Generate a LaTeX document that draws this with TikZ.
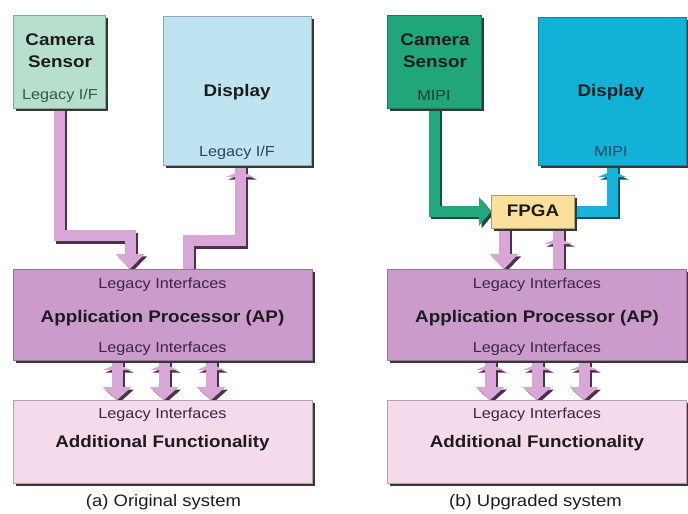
\documentclass[tikz,border=0pt]{standalone}
\usepackage{fontspec}
\setmainfont{Liberation Sans}[FakeStretch=1.12]
\usetikzlibrary{arrows.meta,shadows,backgrounds,decorations.markings}
\definecolor{camAc}{HTML}{B6DFCD}
\definecolor{dispAc}{HTML}{BEE3F1}
\definecolor{camBc}{HTML}{21A67B}
\definecolor{dispBc}{HTML}{12B2D7}
\definecolor{fpgac}{HTML}{FBE09C}
\definecolor{apc}{HTML}{CB9BCB}
\definecolor{afc}{HTML}{F4DAEA}
\definecolor{lilac}{HTML}{D8A6D7}
\definecolor{lilacsh}{HTML}{4B3149}
\definecolor{greenar}{HTML}{24A77D}
\definecolor{greensh}{HTML}{1E4A3B}
\definecolor{cyanar}{HTML}{18B3D8}
\definecolor{cyansh}{HTML}{16495B}
\definecolor{txt}{HTML}{1C1C1C}
\definecolor{legAP}{HTML}{3E2640}
\definecolor{legCam}{HTML}{2E5A47}
\definecolor{legDisp}{HTML}{2C4754}
\definecolor{mipiCam}{HTML}{123F30}
\definecolor{mipiDisp}{HTML}{0C4A62}
\tikzset{
 box/.style={rectangle, inner sep=0pt, outer sep=0pt, anchor=north west, line width=0.5bp,
   drop shadow={shadow xshift=3bp, shadow yshift=-3bp, fill=black!78, opacity=1}},
 title/.style={anchor=base, inner sep=0pt, text=txt, font=\fontsize{16.8bp}{18bp}\selectfont\bfseries},
 small/.style={anchor=base, inner sep=0pt, font=\fontsize{14.5bp}{16bp}\selectfont},
 caption/.style={anchor=base, inner sep=0pt, text=txt, font=\fontsize{16.5bp}{18bp}\selectfont},
 shaft/.style={line width=11bp},
 downtip/.style={-{Triangle[width=29bp,length=15bp,line width=0bp]}},
 uphead/.style={postaction={decorate}, decoration={markings,
   mark=at position -#1 with {\arrow{Triangle[width=28bp,length=6bp,line width=0bp]}}}},
 shadowed/.style={transform canvas={shift={(2.5bp,-2.5bp)}}},
}
\begin{document}
\begin{tikzpicture}[x=1bp,y=-1bp]
\useasboundingbox (0,0) rectangle (688,514);
% ---------- boxes ----------
\node[box, fill=camAc, draw=camAc!75!black, minimum width=92bp, minimum height=93bp] (camA) at (13,15) {};
\node[box, fill=dispAc, draw=dispAc!75!black, minimum width=148bp, minimum height=149bp] (dispA) at (163,16) {};
\node[box, fill=apc, draw=apc!75!black, minimum width=299bp, minimum height=91bp] (apA) at (13,269) {};
\node[box, fill=afc, draw=afc!75!black, minimum width=299bp, minimum height=83bp] (afA) at (13,400) {};
\node[box, fill=camBc, draw=camBc!75!black, minimum width=94bp, minimum height=93bp] (camB) at (387,15) {};
\node[box, fill=dispBc, draw=dispBc!75!black, minimum width=148bp, minimum height=148bp] (dispB) at (538,17) {};
\node[box, fill=fpgac, draw=fpgac!70!black, minimum width=83bp, minimum height=33bp] (fpga) at (491,195) {};
\node[box, fill=apc, draw=apc!75!black, minimum width=299bp, minimum height=91bp] (apB) at (387,269) {};
\node[box, fill=afc, draw=afc!75!black, minimum width=299bp, minimum height=83bp] (afB) at (387,400) {};
% ---------- texts ----------
\node[title] (tCamA1) at (60,46) {Camera};
\node[title] (tCamA2) at (60,68) {Sensor};
\node[small, text=legCam] (tCamA3) at (60,100) {Legacy I/F};
\node[title] (tDispA1) at (237,97) {Display};
\node[small, text=legDisp] (tDispA2) at (237,157) {Legacy I/F};
\node[small, text=legAP] (tApA1) at (162.5,288) {Legacy Interfaces};
\node[title] (tApA2) at (162.5,322) {Application Processor (AP)};
\node[small, text=legAP] (tApA3) at (162.5,352) {Legacy Interfaces};
\node[small, text=legAP] (tAfA1) at (162.5,418) {Legacy Interfaces};
\node[title] (tAfA2) at (162.5,447) {Additional Functionality};
\node[caption] (capA) at (163.5,506) {(a) Original system};
\node[title] (tCamB1) at (435,46) {Camera};
\node[title] (tCamB2) at (435,68) {Sensor};
\node[small, text=mipiCam] (tCamB3) at (434,101) {MIPI};
\node[title] (tDispB1) at (611,97) {Display};
\node[small, text=mipiDisp] (tDispB2) at (611,157) {MIPI};
\node[title] (tFpga) at (533,217) {FPGA};
\node[small, text=legAP] (tApB1) at (537,288) {Legacy Interfaces};
\node[title] (tApB2) at (537,322) {Application Processor (AP)};
\node[small, text=legAP] (tApB3) at (537,352) {Legacy Interfaces};
\node[small, text=legAP] (tAfB1) at (537,418) {Legacy Interfaces};
\node[title] (tAfB2) at (537,447) {Additional Functionality};
\node[caption] (capB) at (535.5,506) {(b) Upgraded system};
% ---------- helper coordinates ----------
\coordinate (kA1) at (130,236);
\coordinate (kA2a) at (188,241);
\coordinate (kA2b) at (240,241);
\coordinate (kB3) at (504,250);
\coordinate (kB4) at (558,250);
\foreach \i/\x in {1/117,2/164,3/211} {\coordinate (dA\i) at (\x,380);}
\foreach \i/\x in {1/490,2/537,3/584} {\coordinate (dB\i) at (\x,380);}
% ---------- connectors ----------
\begin{pgfonlayer}{background}
\fill[white] (0,0) rectangle (688,514);
% left: camera -> AP
\draw[shaft, downtip, draw=lilacsh, shadowed] (camA.south) |- (kA1) -- (kA1 |- apA.north);
\draw[shaft, downtip, draw=lilac] (camA.south) |- (kA1) -- (kA1 |- apA.north);
% left: AP -> display
\draw[shaft, draw=lilacsh, uphead=6bp, shadowed] (kA2a |- apA.north) -- (kA2a) -- (kA2b) -- (kA2b |- dispA.south);
\draw[shaft, draw=lilac, uphead=6bp] (kA2a |- apA.north) -- (kA2a) -- (kA2b) -- (kA2b |- dispA.south);
% left: AP <-> additional
\foreach \i in {1,2,3} {
 \draw[shaft, draw=lilacsh, {Triangle[width=29bp,length=13bp,line width=0bp]}-, uphead=4bp, shadowed] (dA\i |- afA.north) -- (dA\i |- apA.south);
 \draw[shaft, draw=lilac, {Triangle[width=29bp,length=13bp,line width=0bp]}-, uphead=4bp] (dA\i |- afA.north) -- (dA\i |- apA.south);
}
% right: camera -> FPGA
\draw[shaft, draw=greensh, -{Triangle[width=29bp,length=12bp,line width=0bp]}, shadowed] (camB.south) |- (fpga.west);
\draw[shaft, draw=greenar, -{Triangle[width=29bp,length=12bp,line width=0bp]}] (camB.south) |- (fpga.west);
% right: FPGA -> display
\draw[shaft, draw=cyansh, uphead=6bp, shadowed] (fpga.east) -| (dispB.south);
\draw[shaft, draw=cyanar, uphead=6bp] (fpga.east) -| (dispB.south);
% right: FPGA -> AP
\draw[shaft, downtip, draw=lilacsh, shadowed] (kB3 |- fpga.south) -- (kB3 |- apB.north);
\draw[shaft, downtip, draw=lilac] (kB3 |- fpga.south) -- (kB3 |- apB.north);
% right: AP -> FPGA
\draw[shaft, draw=lilacsh, uphead=10bp, shadowed] (kB4 |- apB.north) -- (kB4 |- fpga.south);
\draw[shaft, draw=lilac, uphead=10bp] (kB4 |- apB.north) -- (kB4 |- fpga.south);
% right: AP <-> additional
\foreach \i in {1,2,3} {
 \draw[shaft, draw=lilacsh, {Triangle[width=29bp,length=13bp,line width=0bp]}-, uphead=4bp, shadowed] (dB\i |- afB.north) -- (dB\i |- apB.south);
 \draw[shaft, draw=lilac, {Triangle[width=29bp,length=13bp,line width=0bp]}-, uphead=4bp] (dB\i |- afB.north) -- (dB\i |- apB.south);
}
\end{pgfonlayer}
\end{tikzpicture}
\end{document}
